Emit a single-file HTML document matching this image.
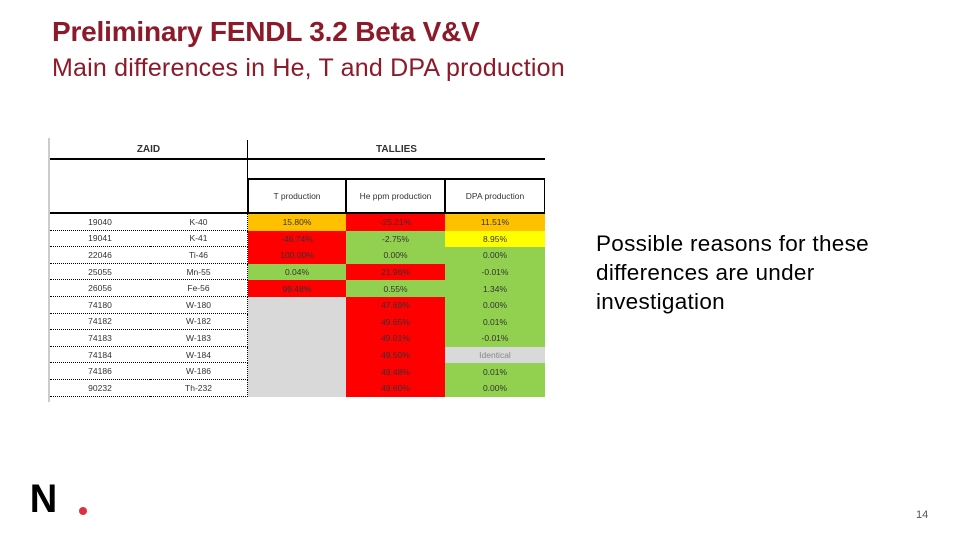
<!DOCTYPE html>
<html><head><meta charset="utf-8"><style>
body{margin:0;width:960px;height:540px;background:#fff;position:relative;overflow:hidden;font-family:"Liberation Sans",sans-serif}
.t{position:absolute;white-space:nowrap}
.h1{left:52px;top:16px;font-size:28px;font-weight:bold;color:#8b1a2a;letter-spacing:-0.2px}
.h2{left:52px;top:54px;font-size:25px;color:#8b1a2a;letter-spacing:0.2px}
#tbl{position:absolute;left:50px;top:140px;width:495px;height:260px;font-size:8.5px;color:#333}
.c{position:absolute;box-sizing:border-box;display:flex;align-items:center;justify-content:center}
.R{background:#ff0000}.G{background:#92d050}.O{background:#ffc000}.Y{background:#ffff00}.L{background:#d9d9d9}
</style></head><body>
<div class="t h1">Preliminary FENDL 3.2 Beta V&amp;V</div>
<div class="t h2">Main differences in He, T and DPA production</div>
<div class="t" style="left:48px;top:138px;width:2px;height:264px;background:#ccc"></div>
<div id="tbl"></div>
<div class="t" style="left:596px;top:229px;font-size:22.5px;line-height:29px;color:#000;letter-spacing:0.3px">Possible reasons for these<br>differences are under<br>investigation</div>
<div class="t" style="left:29px;top:479px;font-size:40px;font-weight:bold;line-height:40px;transform:scaleX(0.95)">N</div>
<div class="t" style="left:79px;top:507px;width:8px;height:8px;border-radius:50%;background:#e03040"></div>
<div class="t" style="left:916px;top:509px;font-size:11px;color:#555">14</div>
<script>
const zaids=["19040","19041","22046","25055","26056","74180","74182","74183","74184","74186","90232"];
const names=["K-40","K-41","Ti-46","Mn-55","Fe-56","W-180","W-182","W-183","W-184","W-186","Th-232"];
const tVals=["15.80%","-46.74%","100.00%","0.04%","99.48%","","","","","",""];
const tCol=["O","R","R","G","R","L","L","L","L","L","L"];
const heVals=["-25.21%","-2.75%","0.00%","21.96%","0.55%","47.69%","49.65%","49.01%","49.50%","49.48%","49.60%"];
const heCol=["R","G","G","R","G","R","R","R","R","R","R"];
const dpaVals=["11.51%","8.95%","0.00%","-0.01%","1.34%","0.00%","0.01%","-0.01%","Identical","0.01%","0.00%"];
const dpaCol=["O","Y","G","G","G","G","G","G","L","G","G"];
const tb=document.getElementById('tbl');
function cell(x,y,w,h,txt,cls,style){const d=document.createElement('div');d.className='c '+(cls||'');d.style.cssText=`left:${x}px;top:${y}px;width:${w}px;height:${h}px;`+(style||'');d.textContent=txt;tb.appendChild(d);return d;}
let d;
d=cell(0,0,198,20,"ZAID","","font-weight:bold;font-size:10px;border-bottom:2px solid #000;border-right:1px solid #000");

d=cell(198,0,297,20,"TALLIES","","font-weight:bold;font-size:10px;border-bottom:2px solid #000");

d=cell(0,20,198,54,"","","border-bottom:2px solid #000;border-right:1px solid #000");

const hdr=["T production","He ppm production","DPA production"];
const cx=[198,296,395],cw=[98,99,100];
for(let i=0;i<3;i++){d=cell(cx[i],38,cw[i],36,hdr[i],"","border:1px solid #000;border-top:2px solid #000;border-bottom:2px solid #000");
}
const rh=16.6,y0=74;
for(let r=0;r<zaids.length;r++){const y=y0+r*rh;
 d=cell(0,y,100,rh,zaids[r],"","border-bottom:1px dotted #000");
 d=cell(100,y,98,rh,names[r],"","border-bottom:1px dotted #000;border-right:1px dotted #000");
 d=cell(198,y,98,rh,tVals[r],tCol[r]);
 d=cell(296,y,99,rh,heVals[r],heCol[r]);
 d=cell(395,y,100,rh,dpaVals[r],dpaCol[r],dpaCol[r]=="L"?"color:#888":"");
}
</script>
</body></html>
